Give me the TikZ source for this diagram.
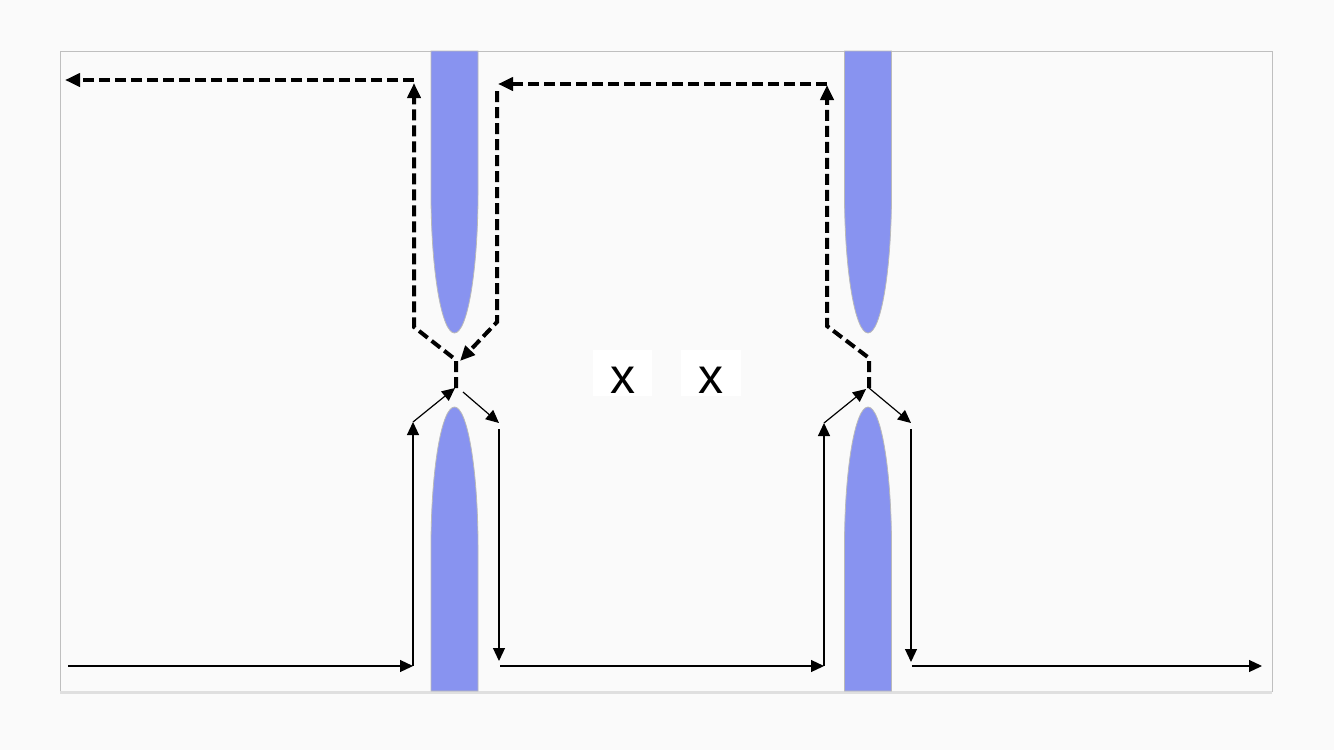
\documentclass[tikz,border=0pt]{standalone}
\usepackage{fontspec}
\setmainfont{Liberation Sans}
\usetikzlibrary{arrows.meta}
\definecolor{barrierblue}{HTML}{8893F0}
\definecolor{bggray}{HTML}{FAFAFA}
\tikzset{
  barrier/.style={fill=barrierblue, draw=gray!55, line width=0.8pt},
  flow/.style={-{Triangle[length=13pt,width=12pt]}, line width=1.2pt},
  backflow/.style={-{Triangle[length=15pt,width=13pt]}, line width=4pt, dash pattern=on 11pt off 5pt},
  crossbox/.style={fill=white, inner sep=0pt, minimum width=59pt, text height=43pt, text depth=3pt, font=\fontsize{50}{60}\selectfont}
}
\begin{document}
\begin{tikzpicture}[x=1pt, y=-1pt]
    % Draw background and frame
    \fill[bggray] (0,0) rectangle (1334,750);
    \draw[gray!50, line width=1pt] (60,51) rectangle (1272,691);
    \draw[gray!25, line width=3pt] (60,692) -- (1272,692);

    % Draw barriers
    \foreach \c in {454.5, 868} {
        \draw[barrier] ({\c-23.5},51) -- ({\c-23.5},193)
          .. controls ({\c-23.5},270) and ({\c-13},333) .. (\c,333)
          .. controls ({\c+13},333) and ({\c+23.5},270) .. ({\c+23.5},193)
          -- ({\c+23.5},51) -- cycle;
        \draw[barrier] ({\c-23.5},691) -- ({\c-23.5},547)
          .. controls ({\c-23.5},470) and ({\c-13},407) .. (\c,407)
          .. controls ({\c+13},407) and ({\c+23.5},470) .. ({\c+23.5},547)
          -- ({\c+23.5},691) -- cycle;
      }

    % Points of the forward path
    \coordinate (start) at (68,666);
    \coordinate (lInB) at (413,666);
    \coordinate (lInT) at (413,422);
    \coordinate (lGap) at (455,388);
    \coordinate (lOutS) at (463,392);
    \coordinate (lOutT) at (499,423);
    \coordinate (lOutV) at (499,429);
    \coordinate (lOutB) at (499,661);
    \coordinate (midS) at (500,666);
    \coordinate (rInB) at (824,666);
    \coordinate (rInT) at (824,423);
    \coordinate (rGap) at (866,389);
    \coordinate (rOutS) at (869,388);
    \coordinate (rOutT) at (911,423);
    \coordinate (rOutV) at (911,429);
    \coordinate (rOutB) at (911,662);
    \coordinate (endS) at (912,666);
    \coordinate (finish) at (1262,666);

    % Draw forward path
    \draw[flow] (start) -- (lInB);
    \draw[flow] (lInB) -- (lInT);
    \draw[flow] (lInT) -- (lGap);
    \draw[flow] (lOutS) -- (lOutT);
    \draw[flow] (lOutV) -- (lOutB);
    \draw[flow] (midS) -- (rInB);
    \draw[flow] (rInB) -- (rInT);
    \draw[flow] (rInT) -- (rGap);
    \draw[flow] (rOutS) -- (rOutT);
    \draw[flow] (rOutV) -- (rOutB);
    \draw[flow] (endS) -- (finish);

    % Points of the reflected path
    \coordinate (lRefS) at (456,388);
    \coordinate (lRefK) at (456,360);
    \coordinate (lRefC) at (414,327);
    \coordinate (lRefT) at (414,83);
    \coordinate (lTopS) at (414,80);
    \coordinate (exit) at (65,80);
    \coordinate (rRefS) at (869,388);
    \coordinate (rRefK) at (869,358);
    \coordinate (rRefC) at (827,326);
    \coordinate (rRefT) at (827,85);
    \coordinate (rTopS) at (827,84);
    \coordinate (mTopE) at (498,84);
    \coordinate (mDownS) at (497,91);
    \coordinate (mDownC) at (497,322);
    \coordinate (mDownE) at (460,361);

    % Draw reflected path
    \draw[backflow] (lRefS) -- (lRefK) -- (lRefC) -- (lRefT);
    \draw[backflow] (lTopS) -- (exit);
    \draw[backflow] (rRefS) -- (rRefK) -- (rRefC) -- (rRefT);
    \draw[backflow] (rTopS) -- (mTopE);
    \draw[backflow] (mDownS) -- (mDownC) -- (mDownE);

    % Draw crossed-out labels
    \node[crossbox] (crossA) at (622.5,373) {x};
    \node[crossbox, minimum width=60pt] (crossB) at (711,373) {x};
  \end{tikzpicture}
\end{document}
